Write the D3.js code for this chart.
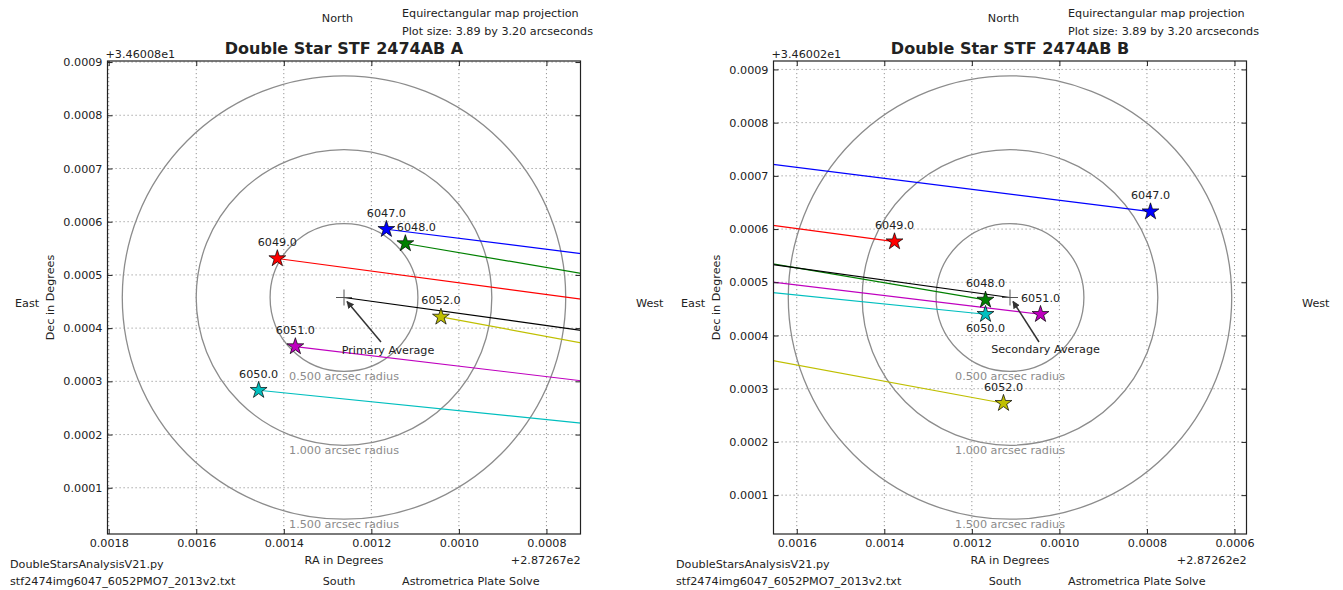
<!DOCTYPE html>
<html><head><meta charset="utf-8">
<script src="https://cdn.jsdelivr.net/npm/d3@7"></script>
<style>
body{margin:0;background:#fff}
text{font-family:"DejaVu Sans",sans-serif;fill:#222;font-size:11.2px}
</style></head><body>
<svg id="c" width="1343" height="590"></svg>
<script>
// ---------- data ----------
const images = [6047, 6048, 6049, 6050, 6051, 6052];
const colors = ["#0000ff", "#008000", "#ff0000", "#00bfbf", "#bf00bf", "#bfbf00"];
// axis offsets (matplotlib offset text)
const raBase = [287.267, 287.262];   // primary, secondary
const decBase = [34.6008, 34.6002];
const raOffsetLabels = ["+2.87267e2", "+2.87262e2"];
const decOffsetLabels = ["+3.46008e1", "+3.46002e1"];
// primary (A) positions, offsets from raBase[0] / decBase[0]
const primaryRA  = [0.0011657, 0.0011223, 0.0014148, 0.0014575, 0.0013736, 0.0010410];
const primaryDec = [0.0005858, 0.0005590, 0.0005308, 0.0002833, 0.0003654, 0.0004210];
// secondary (B) positions, offsets from raBase[1] / decBase[1]
const secondaryRA  = [0.0007919, 0.0011688, 0.0013767, 0.0011688, 0.0010432, 0.0011277];
const secondaryDec = [0.0006327, 0.0004668, 0.0005764, 0.0004399, 0.0004399, 0.0002727];
const xTicksA = [0.0018, 0.0016, 0.0014, 0.0012, 0.0010, 0.0008];
const xTicksB = [0.0016, 0.0014, 0.0012, 0.0010, 0.0008, 0.0006];
const yTicks = [0.0001, 0.0002, 0.0003, 0.0004, 0.0005, 0.0006, 0.0007, 0.0008, 0.0009];
const ringRadii = [0.5, 1.0, 1.5];       // arcsec
const plotSize = [3.89, 3.20];           // arcsec (RA, Dec)

const svg = d3.select("#c");
const fmt = d3.format(".4f");

function panel(cfg) {
  const x0 = cfg.x0, y0 = 61, S = 473;
  const g = svg.append("g");
  const dRA = raBase[cfg.otherIdx] - raBase[cfg.ownIdx];
  const dDec = decBase[cfg.otherIdx] - decBase[cfg.ownIdx];
  const avgR = d3.mean(cfg.ra), avgD = d3.mean(cfg.dec);
  const oAvgR = d3.mean(cfg.ora) + dRA, oAvgD = d3.mean(cfg.odec) + dDec;
  const hw = plotSize[0] / 3600 / 2, hh = plotSize[1] / 3600 / 2;
  const x = d3.scaleLinear().domain([avgR + hw, avgR - hw]).range([x0, x0 + S]);
  const y = d3.scaleLinear().domain([avgD - hh, avgD + hh]).range([y0 + S, y0]);
  const cid = "clip" + cfg.ownIdx;
  svg.append("clipPath").attr("id", cid).append("rect")
    .attr("x", x0).attr("y", y0).attr("width", S).attr("height", S);

  // grid
  const grid = g.append("g").attr("stroke", "#8a8a8a").attr("stroke-width", 0.9)
    .attr("stroke-dasharray", "1.2,2.8");
  grid.selectAll(".gx").data(cfg.xTicks).join("line")
    .attr("x1", d => x(d)).attr("x2", d => x(d)).attr("y1", y0).attr("y2", y0 + S);
  grid.selectAll(".gy").data(yTicks).join("line")
    .attr("y1", d => y(d)).attr("y2", d => y(d)).attr("x1", x0).attr("x2", x0 + S);

  const plot = g.append("g").attr("clip-path", `url(#${cid})`);
  // rings
  const pxPerArcsec = y(avgD) - y(avgD + 1 / 3600);
  plot.selectAll("circle.ring").data(ringRadii).join("circle")
    .attr("cx", x(avgR)).attr("cy", y(avgD)).attr("r", d => d * pxPerArcsec)
    .attr("fill", "none").attr("stroke", "#8c8c8c").attr("stroke-width", 1.3);
  plot.selectAll("text.ring").data(ringRadii).join("text")
    .attr("x", x(avgR)).attr("y", d => y(avgD) + d * pxPerArcsec + 9)
    .attr("text-anchor", "middle").style("fill", "#8c8c8c")
    .text(d => d3.format(".3f")(d) + " arcsec radius");

  // connecting lines to the other component
  plot.selectAll("line.conn").data(images).join("line")
    .attr("x1", (d, i) => x(cfg.ra[i])).attr("y1", (d, i) => y(cfg.dec[i]))
    .attr("x2", (d, i) => x(cfg.ora[i] + dRA)).attr("y2", (d, i) => y(cfg.odec[i] + dDec))
    .attr("stroke", (d, i) => colors[i]).attr("stroke-width", 1.2);
  plot.append("line")
    .attr("x1", x(avgR)).attr("y1", y(avgD)).attr("x2", x(oAvgR)).attr("y2", y(oAvgD))
    .attr("stroke", "#000").attr("stroke-width", 1.2);

  // average marker
  const ax = x(avgR), ay = y(avgD);
  plot.append("path").attr("d", `M${ax - 8},${ay}H${ax + 8}M${ax},${ay - 8}V${ay + 8}`)
    .attr("stroke", "#555").attr("stroke-width", 1).attr("fill", "none");

  // stars
  const star = d3.symbol(d3.symbolStar, 88);
  plot.selectAll("path.star").data(images).join("path")
    .attr("d", star)
    .attr("transform", (d, i) => `translate(${x(cfg.ra[i])},${y(cfg.dec[i])})`)
    .attr("fill", (d, i) => colors[i]).attr("stroke", "#000").attr("stroke-width", 0.7);
  g.selectAll("text.lab").data(images).join("text")
    .attr("x", (d, i) => x(cfg.ra[i]) + (cfg.labelShift[d] ? cfg.labelShift[d][0] : 0))
    .attr("y", (d, i) => y(cfg.dec[i]) + (cfg.labelShift[d] ? cfg.labelShift[d][1] : -16.5) + 4)
    .attr("text-anchor", "middle").text(d => d3.format(".1f")(d));

  // annotation
  const tx = ax + cfg.avgText[0], ty = ay + cfg.avgText[1];
  g.append("line").attr("x1", ax + cfg.avgArrow[0]).attr("y1", ay + cfg.avgArrow[1])
    .attr("x2", ax + 3).attr("y2", ay + 4).attr("stroke", "#333").attr("stroke-width", 1.5)
    .attr("marker-end", "url(#arrow)");
  g.append("text").attr("x", tx).attr("y", ty + 4).attr("text-anchor", "middle").text(cfg.avgLabel);

  // axes
  const axB = d3.axisBottom(x).tickValues(cfg.xTicks).tickFormat(fmt).tickSize(-5).tickSizeOuter(0).tickPadding(5.5);
  const axT = d3.axisTop(x).tickValues(cfg.xTicks).tickFormat("").tickSize(-5).tickSizeOuter(0);
  const axL = d3.axisLeft(y).tickValues(yTicks).tickFormat(fmt).tickSize(-5).tickSizeOuter(0).tickPadding(5);
  const axR = d3.axisRight(y).tickValues(yTicks).tickFormat("").tickSize(-5).tickSizeOuter(0);
  const styleAx = s => { s.select(".domain").remove(); s.selectAll("line").attr("stroke", "#222");
    s.selectAll("text").attr("font-family", null).attr("font-size", null).style("fill", "#222"); };
  g.append("g").attr("transform", `translate(0,${y0 + S})`).call(axB).call(styleAx);
  g.append("g").attr("transform", `translate(0,${y0})`).call(axT).call(styleAx);
  g.append("g").attr("transform", `translate(${x0},0)`).call(axL).call(styleAx);
  g.append("g").attr("transform", `translate(${x0 + S},0)`).call(axR).call(styleAx);
  g.append("rect").attr("x", x0).attr("y", y0).attr("width", S).attr("height", S)
    .attr("fill", "none").attr("stroke", "#222").attr("stroke-width", 1.2);

  // texts
  const T = (px, py, s, anchor) => g.append("text").attr("x", px).attr("y", py)
    .attr("text-anchor", anchor || "start").text(s);
  g.append("text").attr("x", x0 + S / 2).attr("y", 54).attr("text-anchor", "middle")
    .style("font-weight", "bold").style("font-size", "16px").text(cfg.title);
  T(x0 - 2, 58, decOffsetLabels[cfg.ownIdx]);
  T(x0 + 230, 22, "North", "middle");
  T(x0 + 294.5, 17, "Equirectangular map projection");
  T(x0 + 294.5, 35, `Plot size: ${plotSize[0].toFixed(2)} by ${plotSize[1].toFixed(2)} arcseconds`);
  g.append("text").attr("transform", `translate(${x0 - 53.5},${y0 + S / 2}) rotate(-90)`)
    .attr("text-anchor", "middle").text("Dec in Degrees");
  T(x0 - 92.5, 307, "East");
  T(x0 + 528.5, 307, "West");
  T(x0 + S / 2, 564, "RA in Degrees", "middle");
  T(x0 + S, 564, raOffsetLabels[cfg.ownIdx], "end");
  T(x0 - 97.5, 568, "DoubleStarsAnalysisV21.py");
  T(x0 - 97.5, 585, "stf2474img6047_6052PMO7_2013v2.txt");
  T(x0 + 231.5, 585, "South", "middle");
  T(x0 + 294.5, 585, "Astrometrica Plate Solve");
}

svg.append("defs").append("marker").attr("id", "arrow").attr("viewBox", "0 0 10 10")
  .attr("refX", 9).attr("refY", 5).attr("markerWidth", 5).attr("markerHeight", 5)
  .attr("orient", "auto").append("path").attr("d", "M0,0L10,5L0,10z").attr("fill", "#333");

panel({x0: 107.5, ownIdx: 0, otherIdx: 1, ra: primaryRA, dec: primaryDec,
  ora: secondaryRA, odec: secondaryDec, xTicks: xTicksA,
  title: "Double Star STF 2474AB A", avgLabel: "Primary Average",
  labelShift: {6048: [11, -16.5]}, avgText: [44, 52.5], avgArrow: [37, 44.5]});
panel({x0: 773.5, ownIdx: 1, otherIdx: 0, ra: secondaryRA, dec: secondaryDec,
  ora: primaryRA, odec: primaryDec, xTicks: xTicksB,
  title: "Double Star STF 2474AB B", avgLabel: "Secondary Average",
  labelShift: {6050: [0, 14]}, avgText: [35.5, 51.5], avgArrow: [29, 44.5]});
</script>
</body></html>
